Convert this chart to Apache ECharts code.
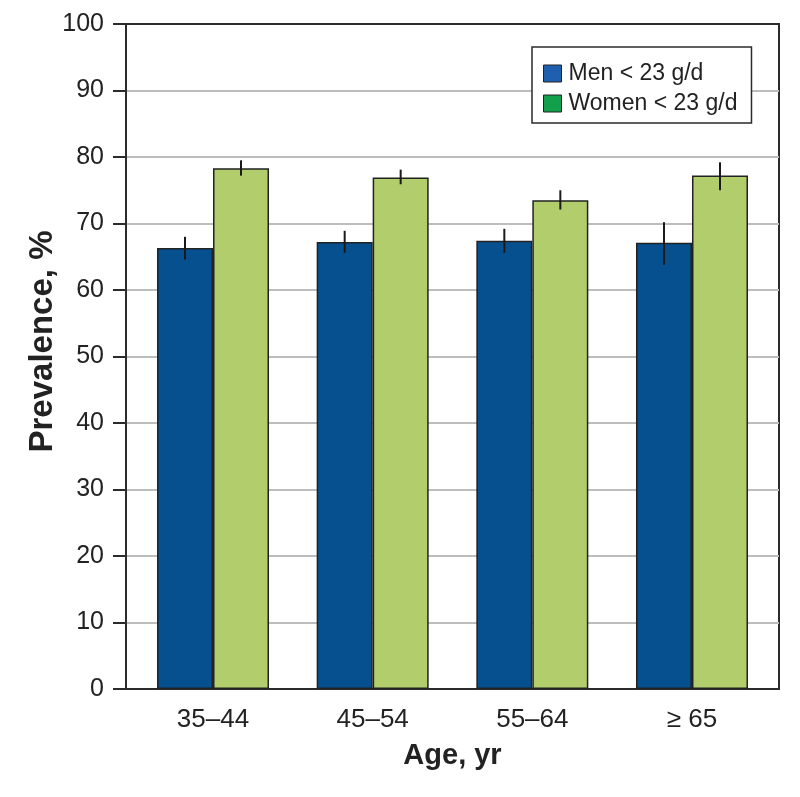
<!DOCTYPE html>
<html>
<head>
<meta charset="utf-8">
<script src="https://cdn.jsdelivr.net/npm/echarts@6/dist/echarts.min.js"></script>
<style>html,body{margin:0;padding:0;background:#fff}#c{width:800px;height:797px}</style>
</head>
<body>
<div id="c"></div>
<script>
const categories = ['35\u201344', '45\u201354', '55\u201364', '\u2265 65'];
const menValues = [66.3, 67.2, 67.4, 67.1];
const menErrLow = [64.6, 65.6, 65.6, 63.8];
const menErrHigh = [68.0, 68.9, 69.2, 70.2];
const womenValues = [78.3, 76.9, 73.5, 77.2];
const womenErrLow = [77.2, 75.9, 72.1, 75.0];
const womenErrHigh = [79.5, 78.1, 75.0, 79.2];
const yTicks = [0, 10, 20, 30, 40, 50, 60, 70, 80, 90, 100];

const FONT = '"Liberation Sans", Arial, Helvetica, sans-serif';
const positions = categories.map((c, i) => i + 1);
const BAR_W = 56;

function errSeries(name, low, high, shift) {
  return {
    type: 'custom',
    name: name + ' err',
    data: positions.map((p, i) => [p, low[i], high[i]]),
    encode: { x: 0, y: [1, 2] },
    z: 5,
    silent: true,
    renderItem: function (params, api) {
      const a = api.coord([api.value(0), api.value(1)]);
      const b = api.coord([api.value(0), api.value(2)]);
      return {
        type: 'line',
        shape: { x1: a[0] + shift, y1: a[1], x2: b[0] + shift, y2: b[1] },
        style: { stroke: '#1a1a1a', lineWidth: 2 }
      };
    }
  };
}

const chart = echarts.init(document.getElementById('c'));
chart.setOption({
  animation: false,
  backgroundColor: '#fff',
  textStyle: { fontFamily: FONT },
  grid: { left: 126, right: 21, top: 24, bottom: 108, show: true, borderColor: '#2b2b2b', borderWidth: 2, backgroundColor: 'transparent' },
  legend: {
    orient: 'vertical',
    left: 532, top: 47,
    backgroundColor: '#fff',
    borderColor: '#2b2b2b', borderWidth: 1.5,
    padding: [15, 14, 8, 11],
    itemWidth: 18, itemHeight: 17, itemGap: 7,
    textStyle: { fontFamily: FONT, fontSize: 23, color: '#222', padding: [0, 0, 0, 2] },
    data: [
      { name: 'Men < 23 g/d', icon: 'rect', itemStyle: { color: '#1e5fb0', borderColor: '#222', borderWidth: 1 } },
      { name: 'Women < 23 g/d', icon: 'rect', itemStyle: { color: '#13a04c', borderColor: '#222', borderWidth: 1 } }
    ]
  },
  xAxis: {
    type: 'value',
    min: 0.455, max: 4.545,
    splitLine: { show: false },
    axisTick: { show: false },
    axisLine: { show: true, lineStyle: { color: '#2b2b2b', width: 2 } },
    axisLabel: {
      customValues: positions,
      formatter: function (v) { return categories[Math.round(v) - 1] || ''; },
      fontSize: 26, color: '#222', margin: 18, fontFamily: FONT
    },
    name: 'Age, yr',
    nameLocation: 'middle',
    nameGap: 52,
    nameMoveOverlap: false,
    nameTextStyle: { fontSize: 29, fontWeight: 'bold', color: '#222', fontFamily: FONT, verticalAlign: 'top' }
  },
  yAxis: {
    type: 'value',
    min: 0, max: 100, interval: 10,
    axisLine: { show: true, lineStyle: { color: '#2b2b2b', width: 2 } },
    axisTick: { show: true, length: 13, lineStyle: { color: '#2b2b2b', width: 2 } },
    axisLabel: {
      customValues: yTicks,
      fontSize: 25, color: '#222', margin: 22, fontFamily: FONT
    },
    splitLine: { show: true, showMinLine: false, showMaxLine: false, lineStyle: { color: '#bdbdbd', width: 2 } },
    name: 'Prevalence, %',
    nameLocation: 'middle',
    nameGap: 67,
    nameMoveOverlap: false,
    nameTextStyle: { fontSize: 33, fontWeight: 'bold', color: '#222', fontFamily: FONT, padding: [0, 0, 0, 30] }
  },
  series: [
    {
      type: 'bar', name: 'Men < 23 g/d',
      data: positions.map((p, i) => [p, menValues[i]]),
      barWidth: BAR_W, barGap: '0%',
      itemStyle: { color: '#06508f', borderColor: '#222', borderWidth: 1.5 }
    },
    {
      type: 'bar', name: 'Women < 23 g/d',
      data: positions.map((p, i) => [p, womenValues[i]]),
      barWidth: BAR_W, barGap: '0%',
      itemStyle: { color: '#b1cd6c', borderColor: '#222', borderWidth: 1.5 }
    },
    errSeries('Men < 23 g/d', menErrLow, menErrHigh, -BAR_W / 2),
    errSeries('Women < 23 g/d', womenErrLow, womenErrHigh, BAR_W / 2)
  ]
});
</script>
</body>
</html>
